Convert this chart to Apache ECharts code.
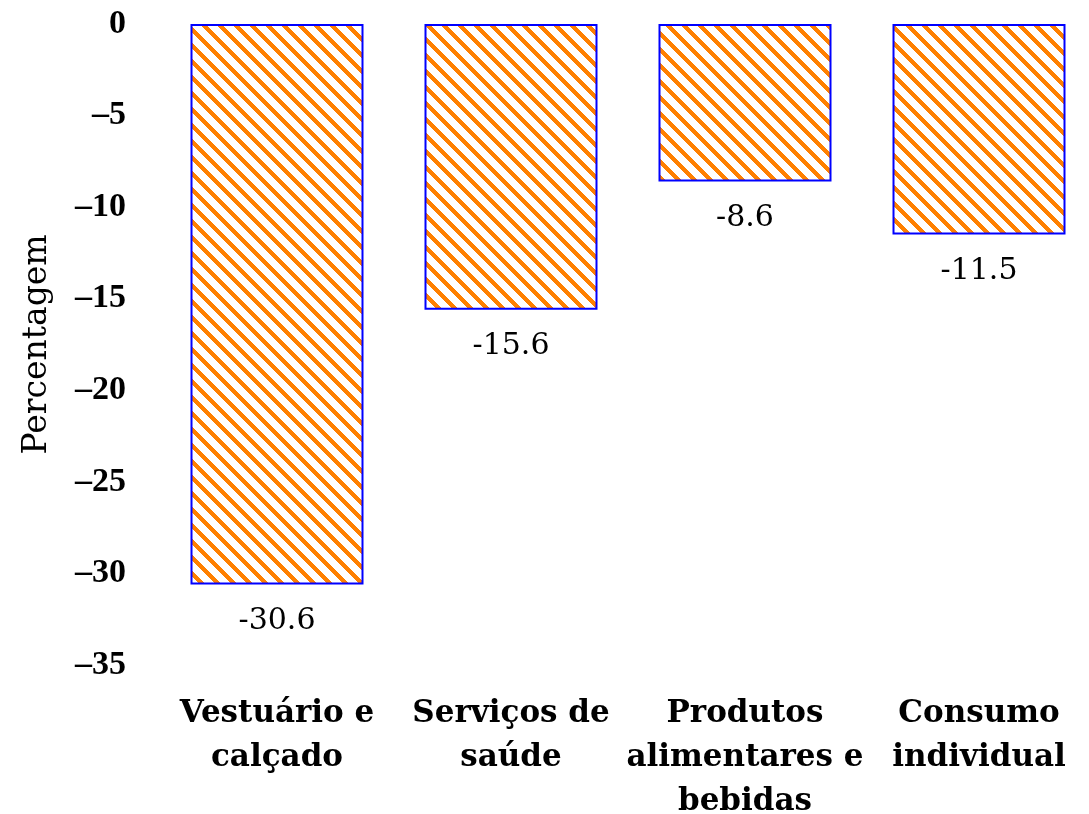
<!DOCTYPE html>
<html>
<head>
<meta charset="utf-8">
<script src="https://cdn.jsdelivr.net/npm/echarts@6/dist/echarts.min.js"></script>
<style>
  html, body { margin: 0; padding: 0; background: #fff; }
  #chart { width: 1089px; height: 814px; }
</style>
</head>
<body>
<div id="chart"></div>
<script>
// categorias e valores
var categories = ['Vestuário e\ncalçado', 'Serviços de\nsaúde', 'Produtos\nalimentares e\nbebidas', 'Consumo\nindividual'];
var values = [-30.6, -15.6, -8.6, -11.5];
var yTicks = { min: -35, max: 0, step: 5 };

// padrão de riscas diagonais (pixel a pixel, sem antialias)
function stripes() {
  var n = 16, w = 6;
  var c = document.createElement('canvas');
  c.width = n; c.height = n;
  var ctx = c.getContext('2d');
  ctx.fillStyle = '#fff';
  ctx.fillRect(0, 0, n, n);
  ctx.fillStyle = '#ff8000';
  for (var y = 0; y < n; y++) {
    for (var x = 0; x < n; x++) {
      if (((x - y) % n + n) % n < w) ctx.fillRect(x, y, 1, 1);
    }
  }
  return c;
}

var tickFont = 'Times New Roman';
var bookFont = 'DejaVu Serif';
var chart = echarts.init(document.getElementById('chart'));
var option = {
  animation: false,
  grid: { left: 160, top: 24, width: 936, height: 641, containLabel: false, outerBoundsMode: 'none' },
  xAxis: {
    type: 'category',
    data: categories,
    position: 'bottom',
    axisLine: { show: false },
    axisTick: { show: false },
    axisLabel: {
      margin: 27,
      interval: 0,
      fontFamily: bookFont,
      fontWeight: 'bold',
      fontSize: 31,
      lineHeight: 44,
      color: '#000'
    }
  },
  yAxis: {
    type: 'value',
    min: yTicks.min,
    max: yTicks.max,
    interval: yTicks.step,
    name: 'Percentagem',
    nameLocation: 'middle',
    nameGap: 106,
    nameTextStyle: { fontFamily: bookFont, fontSize: 33, color: '#000' },
    axisLine: { show: false },
    axisTick: { show: false },
    splitLine: { show: false },
    axisLabel: {
      margin: 34,
      fontFamily: tickFont,
      fontWeight: 'bold',
      fontSize: 34,
      color: '#000',
      formatter: function (v) { return String(v).replace('-', '\u2013'); }
    }
  },
  series: [{
    type: 'bar',
    data: values,
    barWidth: 173,
    itemStyle: {
      color: { image: stripes(), repeat: 'repeat' },
      borderColor: '#0000ff',
      borderWidth: 2
    },
    label: {
      show: true,
      position: 'bottom',
      distance: 22,
      fontFamily: bookFont,
      fontSize: 30,
      color: '#000',
      formatter: function (p) { return p.value.toFixed(1); }
    }
  }]
};
chart.setOption(option);
</script>
</body>
</html>
